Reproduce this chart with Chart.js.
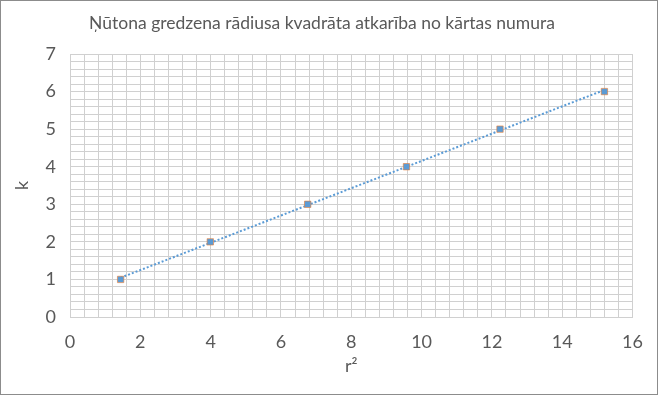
<!DOCTYPE html>
<html>
<head>
<meta charset="utf-8">
<script src="https://cdn.jsdelivr.net/npm/chart.js@4"></script>
<style>
  html, body { margin: 0; padding: 0; background: #fff; }
  #wrap { position: relative; width: 656px; height: 393px; border: 1px solid #8c8c8c; }
</style>
</head>
<body>
<div id="wrap"><canvas id="chart"></canvas></div>
<script>
// r^2 values (x) and ring numbers k (y)
const rSquared = [1.44, 3.99, 6.76, 9.57, 12.23, 15.2];
const ringNo = [1, 2, 3, 4, 5, 6];

// linear trendline through the points (least squares)
const n = rSquared.length;
const mx = rSquared.reduce((a, b) => a + b, 0) / n;
const my = ringNo.reduce((a, b) => a + b, 0) / n;
let sxy = 0, sxx = 0;
for (let i = 0; i < n; i++) {
    sxy += (rSquared[i] - mx) * (ringNo[i] - my);
    sxx += (rSquared[i] - mx) * (rSquared[i] - mx);
}
const slope = sxy / sxx;
const icpt = my - slope * mx;
const trendX = [rSquared[0], rSquared[n - 1]];

const txt = '#595959';
const font = 'Lato, "Open Sans", sans-serif';

new Chart(document.getElementById('chart'), {
    type: 'scatter',
    data: {
        datasets: [{
            label: 'trend',
            data: trendX.map(x => ({ x: x, y: slope * x + icpt })),
            showLine: true,
            borderColor: '#5B9BD5',
            borderWidth: 2,
            borderDash: [2, 2],
            pointRadius: 0,
            order: 2
        }, {
            label: 'k',
            data: rSquared.map((x, i) => ({ x: x, y: ringNo[i] })),
            pointStyle: 'rect',
            pointRadius: 4.5,
            backgroundColor: '#5B9BD5',
            borderColor: 'rgba(237,125,49,0.6)',
            borderWidth: 1,
            order: 1
        }]
    },
    options: {
        responsive: true,
        maintainAspectRatio: false,
        animation: false,
        layout: { padding: { left: 10, right: 24, top: 6, bottom: 17 } },
        plugins: {
            legend: { display: false },
            tooltip: { enabled: false },
            title: {
                display: true,
                text: 'Ņūtona gredzena rādiusa kvadrāta atkarība no kārtas numura',
                color: txt,
                font: { family: font, size: 17.5, weight: 'normal' },
                padding: { top: 6, bottom: 20 }
            }
        },
        scales: {
            x: {
                type: 'linear',
                min: 0,
                max: 16,
                ticks: {
                    stepSize: 0.4,
                    autoSkip: false,
                    maxRotation: 0,
                    minRotation: 0,
                    color: txt,
                    font: { family: font, size: 18 },
                    padding: 14,
                    callback: v => {
                        const r = Math.round(v * 10) / 10;
                        return r % 2 === 0 ? r : '';
                    }
                },
                grid: { color: '#d0d0d0', drawTicks: false },
                border: { color: '#d0d0d0' },
                title: {
                    display: true,
                    text: 'r²',
                    color: txt,
                    font: { family: font, size: 18 },
                    padding: { top: 2, bottom: 0 }
                },
                afterFit: s => { s.height = 60; }
            },
            y: {
                min: 0,
                max: 7,
                ticks: {
                    stepSize: 0.2,
                    autoSkip: false,
                    color: txt,
                    font: { family: font, size: 18 },
                    padding: 14,
                    callback: v => {
                        const r = Math.round(v * 10) / 10;
                        return Number.isInteger(r) ? r : '';
                    }
                },
                grid: { color: '#d0d0d0', drawTicks: false },
                border: { color: '#d0d0d0' },
                title: {
                    display: true,
                    text: 'k',
                    color: txt,
                    font: { family: font, size: 18 },
                    padding: { top: 0, bottom: 0 }
                },
                afterFit: s => { s.width = 59; }
            }
        }
    }
});
</script>
</body>
</html>
